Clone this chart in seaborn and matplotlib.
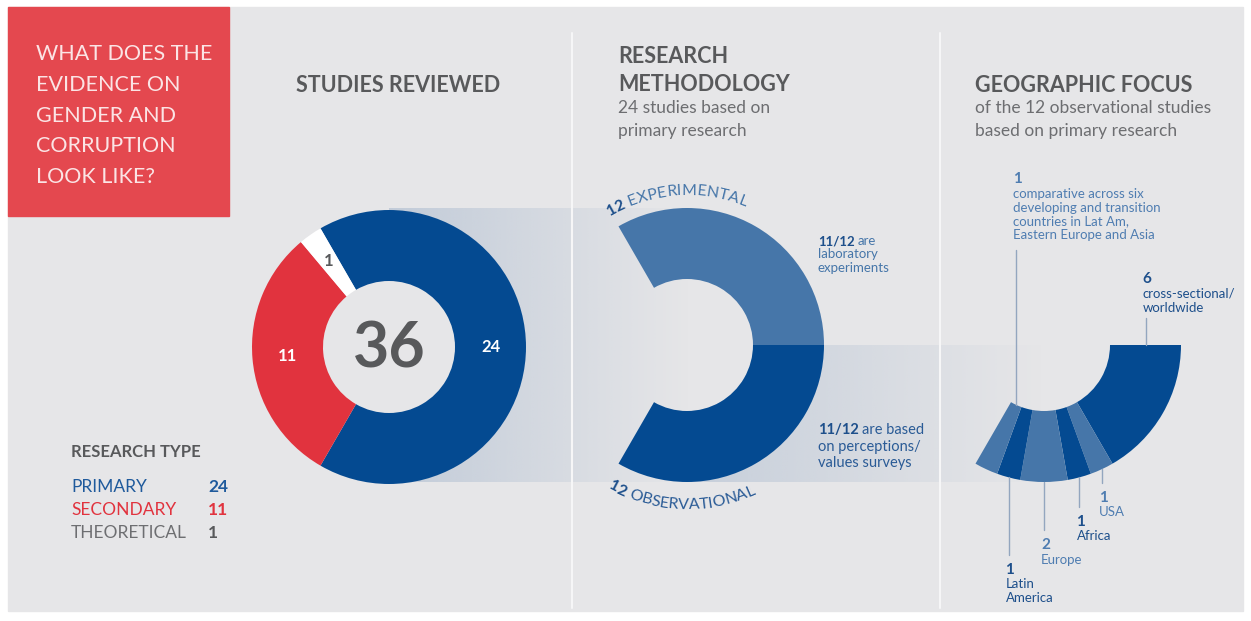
import numpy as np
import matplotlib
matplotlib.use('Agg')
import matplotlib.pyplot as plt
import matplotlib.colors as mcolors
import seaborn as sns
from matplotlib.patches import Rectangle, Circle
from matplotlib.path import Path

# ---- data ----
research_types = ['PRIMARY', 'SECONDARY', 'THEORETICAL']
research_counts = [24, 11, 1]
method_labels = ['EXPERIMENTAL', 'OBSERVATIONAL']
method_counts = [12, 12]
geo_labels = ['cross-sectional/\nworldwide', 'USA', 'Africa', 'Europe', 'Latin\nAmerica',
              'comparative across six\ndeveloping and transition\ncountries in Lat Am,\nEastern Europe and Asia']
geo_counts = [6, 1, 1, 2, 1, 1]
total = sum(research_counts)

# ---- style ----
W, H = 1251, 621
BG = '#e6e6e8'
BOX = '#e4484f'
RED = '#e1333e'
BLUE = '#044a91'
LIGHT = '#4676a9'
GREY = '#58595b'
SUBGREY = '#6d6e71'
BAND = '#b9c5d5'
LINE = '#93a6bf'

sns.set_theme(style='white')
plt.rcParams['font.family'] = ['Lato', 'DejaVu Sans']

fig = plt.figure(figsize=(W / 100, H / 100), dpi=100, facecolor='white')
ax = fig.add_axes([0, 0, 1, 1])
renderer = fig.canvas.get_renderer()


def Y(y):
    return H - y


def text_w(s, **kw):
    t = ax.text(0, 0, s, **kw)
    w = t.get_window_extent(renderer).width
    t.remove()
    return w


def lines(x, y0, step, rows, **kw):
    for i, r in enumerate(rows):
        ax.text(x, Y(y0 + i * step), r, va='baseline', **kw)


def band(x0, x1, y0, y1, a0, a1, hole=None):
    grad = np.zeros((1, 256, 4))
    grad[..., :3] = mcolors.to_rgb(BAND)
    grad[..., 3] = np.linspace(a0, a1, 256)
    im = ax.imshow(grad, extent=(x0, x1, Y(y1), Y(y0)), aspect='auto', zorder=1,
                   interpolation='bilinear')
    if hole is not None:
        c, r = hole
        rect = Path([(x0, Y(y1)), (x1, Y(y1)), (x1, Y(y0)), (x0, Y(y0)), (x0, Y(y1))],
                    closed=True)
        t = np.linspace(0, -2 * np.pi, 240)
        circ = Path(np.column_stack([c[0] + r * np.cos(t), c[1] + r * np.sin(t)]),
                    closed=True)
        im.set_clip_path(Path.make_compound_path(rect, circ), ax.transData)


def arc_text(segments, c, r, start, clockwise, fs, gap=4):
    pos = 0
    items = []
    for s, weight, color in segments:
        for i, ch in enumerate(s):
            right = text_w(s[:i + 1], fontsize=fs, fontweight=weight)
            cw = text_w(ch, fontsize=fs, fontweight=weight)
            items.append((pos + right - cw / 2, ch, weight, color))
        pos += text_w(s, fontsize=fs, fontweight=weight) + gap
    sign = -1 if clockwise else 1
    for d, ch, weight, color in items:
        ang = start + sign * np.degrees(d / r)
        a = np.radians(ang)
        rot = ang - 90 if clockwise else ang + 90
        ax.text(c[0] + r * np.cos(a), c[1] + r * np.sin(a), ch, rotation=rot,
                rotation_mode='anchor', ha='center', va='baseline', fontsize=fs,
                fontweight=weight, color=color, zorder=5)


R_OUT, R_IN = 137, 66
R_MID = (R_OUT + R_IN) / 2
step = 360 / total
wp = dict(width=R_OUT - R_IN, linewidth=0, zorder=3)
c1 = (389, Y(347))
c2 = (687, Y(345))
c3 = (1044, Y(345))

# ---- background ----
ax.add_patch(Rectangle((8, Y(611)), 1235, 604, color=BG, zorder=0))
band(389, 690, 208, 482, 0.8, 0.0)
band(687, 1044, 345, 482, 0.7, 0.0, hole=(c2, R_IN))
for sx in [572, 940]:
    ax.plot([sx, sx], [Y(33), Y(608)], color='#f6f6f7', lw=1.5, zorder=2)

ax.add_patch(Rectangle((8, Y(216)), 221, 209, color=BOX, zorder=2))
lines(36, 60, 30.8, ['WHAT DOES THE', 'EVIDENCE ON', 'GENDER AND', 'CORRUPTION', 'LOOK LIKE?'],
      fontsize=15.5, fontweight='normal', color='#fbe4e5', zorder=5)

# ---- studies reviewed ----
ax.text(296, Y(92), 'STUDIES REVIEWED', fontsize=15.5, fontweight='bold', color=GREY,
        va='baseline')
ax.add_patch(Circle(c1, R_IN + 1, color=BG, zorder=2.5))
ax.pie(research_counts, colors=[BLUE, RED, 'white'], startangle=120, counterclock=False,
       radius=R_OUT, center=c1, frame=True, wedgeprops=wp)
cum = np.cumsum(research_counts)
lab_cols = ['white', 'white', GREY]
lab_r = [R_MID, R_MID, R_MID + 4]
for v, cu, col, rr in zip(research_counts, cum, lab_cols, lab_r):
    a = np.radians(120 - (cu - v / 2) * step)
    ax.text(c1[0] + rr * np.cos(a), c1[1] + rr * np.sin(a), str(v), ha='center',
            va='center', fontsize=12, fontweight='bold', color=col, zorder=5)
ax.text(c1[0], Y(367), str(total), ha='center', va='baseline', fontsize=45,
        fontweight='bold', color=GREY, zorder=5)

# legend
ax.text(71, Y(457), 'RESEARCH TYPE', fontsize=12, fontweight='bold', color=GREY,
        va='baseline')
for i, (name, v, col) in enumerate(zip(research_types, research_counts,
                                       ['#1f5a9c', RED, SUBGREY])):
    ax.text(71, Y(492 + 23.2 * i), name, fontsize=12.5, color=col, va='baseline')
    ax.text(208, Y(492 + 23.2 * i), str(v), fontsize=12.5, fontweight='bold',
            color=col if i < 2 else GREY, va='baseline')

# ---- research methodology ----
lines(618, 63, 28, ['RESEARCH', 'METHODOLOGY'], fontsize=15.5, fontweight='bold',
      color=GREY)
lines(618, 113, 23, ['24 studies based on', 'primary research'], fontsize=12.5,
      color=SUBGREY)
ax.pie([v / total for v in method_counts], normalize=False, colors=[LIGHT, BLUE],
       startangle=120, counterclock=False, radius=R_OUT, center=c2, frame=True,
       wedgeprops=wp)
arc_text([(str(method_counts[0]), 'bold', '#1d4f8b'), (method_labels[0], 'normal', LIGHT)],
         c2, 150, 121, True, 11.5)
arc_text([(str(method_counts[1]), 'bold', '#1d4f8b'), (method_labels[1], 'normal', '#2a5b96')],
         c2, 164, -119, False, 11.5)

fs = 9.5
w = text_w('11/12', fontsize=fs, fontweight='bold')
ax.text(818, Y(245), '11/12', fontsize=fs, fontweight='bold', color='#1d4f8b', va='baseline')
ax.text(818 + w + 3, Y(245), 'are', fontsize=fs, color=LIGHT, va='baseline')
lines(818, 258.5, 13.5, ['laboratory', 'experiments'], fontsize=fs, color=LIGHT)
fs = 10.5
w = text_w('11/12', fontsize=fs, fontweight='bold')
ax.text(818, Y(434), '11/12', fontsize=fs, fontweight='bold', color='#1d4f8b', va='baseline')
ax.text(818 + w + 3, Y(434), 'are based', fontsize=fs, color='#2a5b96', va='baseline')
lines(818, 450.5, 16.5, ['on perceptions/', 'values surveys'], fontsize=fs, color='#2a5b96')

# ---- geographic focus ----
ax.text(975, Y(92), 'GEOGRAPHIC FOCUS', fontsize=15.5, fontweight='bold', color=GREY,
        va='baseline')
lines(975, 113, 23, ['of the 12 observational studies', 'based on primary research'],
      fontsize=12.5, color=SUBGREY)
geo_cols = [BLUE, LIGHT] * 3
ax.pie([v / total for v in geo_counts], normalize=False, colors=geo_cols, startangle=0,
       counterclock=False, radius=R_OUT, center=c3, frame=True, wedgeprops=wp)

gcum = np.cumsum(geo_counts)
mids = np.radians(-(gcum - np.array(geo_counts) / 2) * step)
txt_cols = ['#1d4f8b', '#4f7db1'] * 3

# worldwide: label above the top edge
x = c3[0] + R_MID
ax.plot([x, x], [c3[1], Y(318)], color=LINE, lw=1, zorder=4)
ax.text(x - 3, Y(283), str(geo_counts[0]), fontsize=11, fontweight='bold',
        color=txt_cols[0], va='baseline')
lines(x - 3, 298, 14, geo_labels[0].split('\n'), fontsize=9.5, color=txt_cols[0])

# comparative: label above, line to inner arc
a = mids[5]
x = c3[0] + R_IN * np.cos(a)
ax.plot([x, x], [c3[1] + R_IN * np.sin(a), Y(250)], color=LINE, lw=1, zorder=4)
ax.text(x - 3, Y(183), str(geo_counts[5]), fontsize=11, fontweight='bold',
        color=txt_cols[5], va='baseline')
lines(x - 3, 198, 13.8, geo_labels[5].split('\n'), fontsize=9.5, color=txt_cols[5])

# lower labels
ends = {1: 483, 2: 507, 3: 530, 4: 555}
for i, yend in ends.items():
    a = mids[i]
    x = c3[0] + R_OUT * np.cos(a)
    ax.plot([x, x], [c3[1] + R_OUT * np.sin(a), Y(yend)], color=LINE, lw=1, zorder=4)
    ax.text(x - 3, Y(yend + 19), str(geo_counts[i]), fontsize=11, fontweight='bold',
            color=txt_cols[i], va='baseline')
    lines(x - 3, yend + 33.5, 14, geo_labels[i].split('\n'), fontsize=9.5,
          color=txt_cols[i])

ax.set_xlim(0, W)
ax.set_ylim(0, H)
ax.set_aspect('auto')
ax.axis('off')
fig.savefig('out.png', dpi=100, facecolor='white')
